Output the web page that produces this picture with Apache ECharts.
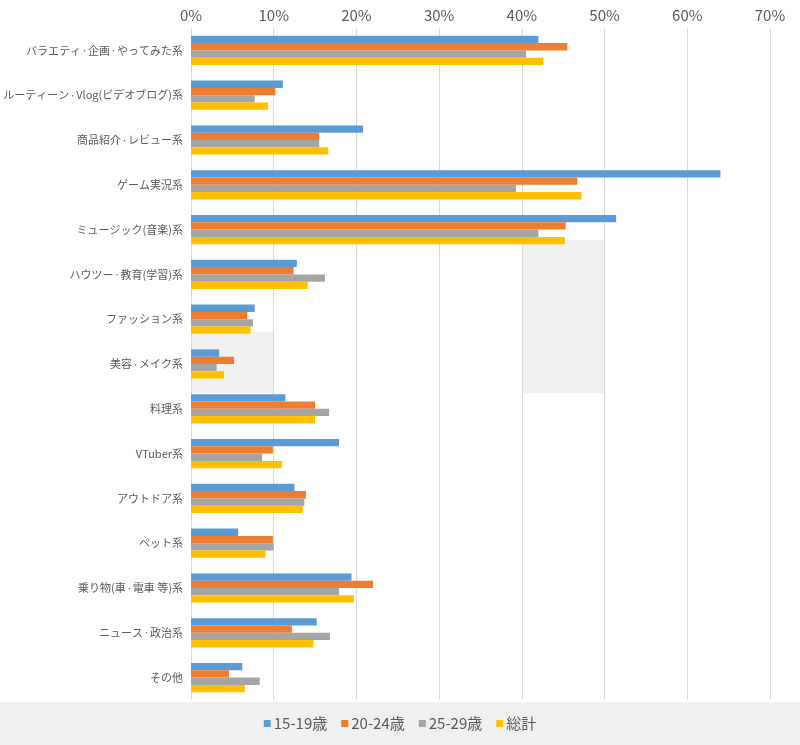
<!DOCTYPE html>
<html>
<head>
<meta charset="utf-8">
<script src="https://cdn.jsdelivr.net/npm/echarts@6/dist/echarts.min.js"></script>
<style>
html,body{margin:0;padding:0;background:#fff;}
#c{width:800px;height:745px;}
</style>
</head>
<body>
<div id="c"></div>
<script>
var categories = ['バラエティ・企画・やってみた系','ルーティーン・Vlog(ビデオブログ)系','商品紹介・レビュー系','ゲーム実況系','ミュージック(音楽)系','ハウツー・教育(学習)系','ファッション系','美容・メイク系','料理系','VTuber系','アウトドア系','ペット系','乗り物(車・電車 等)系','ニュース・政治系','その他'];
var seriesNames = ['15-19歳','20-24歳','25-29歳','総計'];
var age15_19 = [42.0, 11.1, 20.8, 64.0, 51.4, 12.8, 7.7, 3.4, 11.4, 17.9, 12.5, 5.7, 19.4, 15.2, 6.2];
var age20_24 = [45.5, 10.2, 15.5, 46.7, 45.3, 12.4, 6.8, 5.2, 15.0, 9.9, 13.9, 9.9, 22.0, 12.2, 4.6];
var age25_29 = [40.5, 7.7, 15.5, 39.3, 42.0, 16.2, 7.5, 3.1, 16.7, 8.6, 13.7, 10.0, 17.9, 16.8, 8.3];
var total    = [42.6, 9.3, 16.6, 47.2, 45.2, 14.1, 7.2, 4.0, 15.0, 11.0, 13.5, 9.0, 19.7, 14.8, 6.5];
var xTicks = [0, 10, 20, 30, 40, 50, 60, 70];
var colors = ['#5B9BD5','#ED7D31','#A5A5A5','#FFC000'];

var FONT = '"Noto Sans CJK JP", "Noto Sans", sans-serif';
var chart = echarts.init(document.getElementById('c'), null, {renderer:'canvas'});
var dataSets = [age15_19, age20_24, age25_29, total];
var series = dataSets.map(function(d, i){
  return {
    name: seriesNames[i],
    type: 'bar',
    data: d,
    barWidth: 7.3,
    barGap: '0%',
    itemStyle: {color: colors[i]},
    emphasis: {disabled: true},
    z: 3
  };
});
chart.setOption({
  animation: false,
  textStyle: {fontFamily: FONT},
  color: colors,
  grid: {left: 191, right: 30, top: 28, bottom: 45, containLabel: false, outerBoundsMode: 'none'},
  xAxis: {
    type: 'value',
    position: 'top',
    min: xTicks[0],
    max: xTicks[xTicks.length-1],
    interval: 10,
    axisLine: {show: false},
    axisTick: {show: false},
    axisLabel: {formatter: '{value}%', color: '#595959', fontSize: 15, margin: 5, fontFamily: FONT},
    splitLine: {show: true, lineStyle: {color: '#d9d9d9', width: 1}}
  },
  yAxis: {
    type: 'category',
    data: categories,
    inverse: true,
    axisLine: {show: false},
    axisTick: {show: false},
    axisLabel: {
      color: '#595959', fontSize: 11, margin: 8, fontFamily: FONT,
      formatter: function (v) {
        return v.split('・').map(function (s) { return s === '' ? '' : '{t|' + s + '}'; }).join('{d|・}');
      },
      rich: {
        t: {color: '#595959', fontSize: 11, fontFamily: FONT},
        d: {color: '#595959', fontSize: 7, fontFamily: FONT}
      }
    },
    splitLine: {show: false}
  },
  legend: {
    data: seriesNames,
    bottom: 9,
    left: 'center',
    icon: 'rect',
    itemWidth: 7,
    itemHeight: 7,
    itemGap: 14,
    textStyle: {color: '#595959', fontSize: 15, fontFamily: FONT, padding: [0,0,0,-2]}
  },
  series: series
});

var x40 = chart.convertToPixel({xAxisIndex: 0}, 40);
var x50 = chart.convertToPixel({xAxisIndex: 0}, 50);
var x0 = chart.convertToPixel({xAxisIndex: 0}, 0);
var x10 = chart.convertToPixel({xAxisIndex: 0}, 10);
chart.setOption({
  graphic: [
    {type: 'rect', shape: {x: 0, y: 702, width: 800, height: 43}, style: {fill: '#f0f0f0'}, z: -10, silent: true},
    {type: 'rect', shape: {x: x40 + 1, y: 240, width: x50 - x40 - 1, height: 153}, style: {fill: '#f0f0f0'}, z: -10, silent: true},
    {type: 'rect', shape: {x: x0 + 1, y: 332, width: x10 - x0 - 1, height: 61}, style: {fill: '#f0f0f0'}, z: -10, silent: true}
  ]
});
</script>
</body>
</html>
